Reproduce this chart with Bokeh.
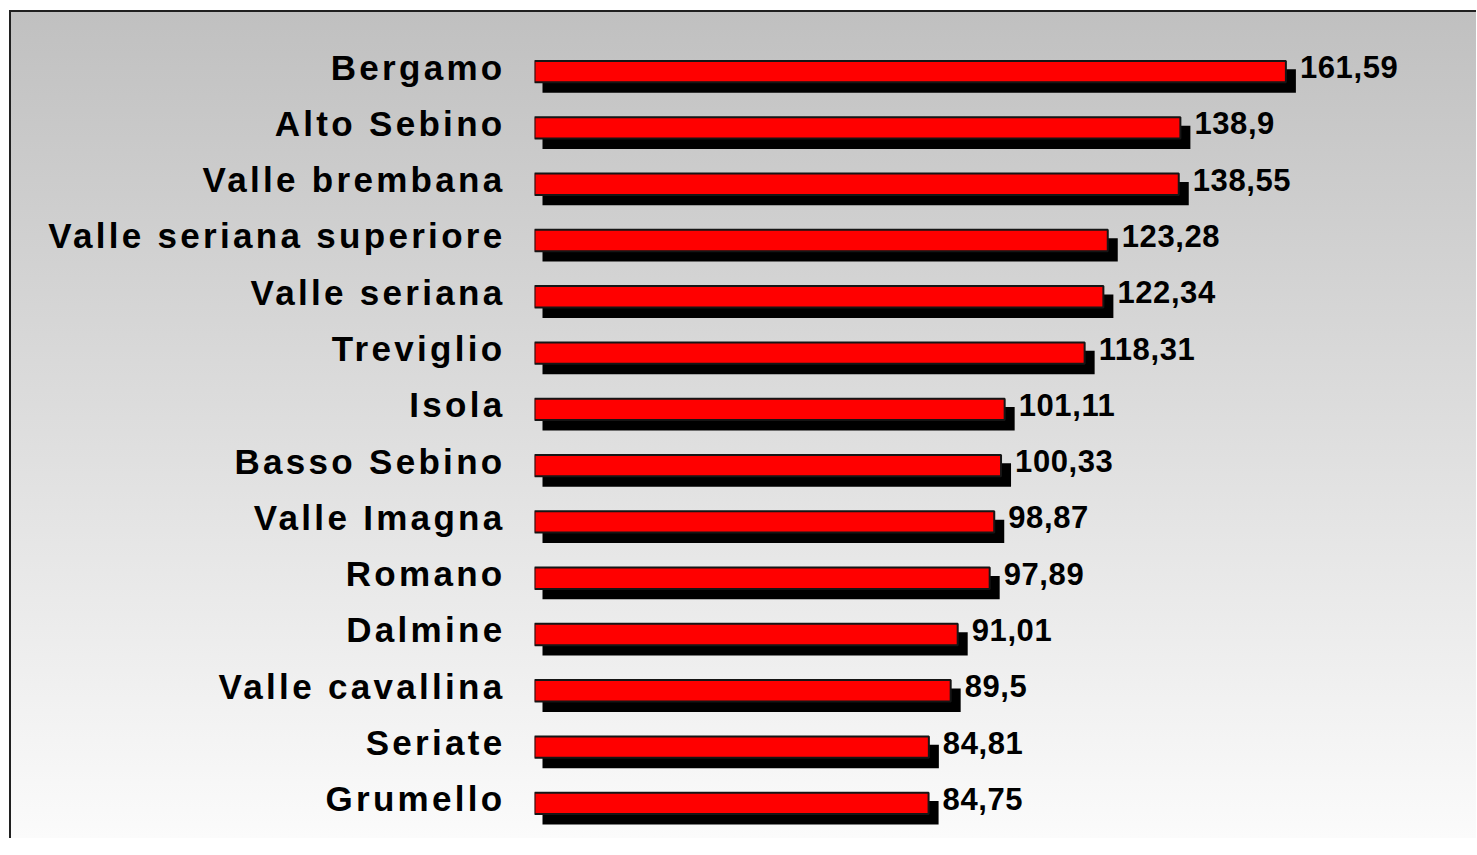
from bokeh.plotting import figure
from bokeh.layouts import row
from bokeh.models import FactorRange, Range1d, ColumnDataSource
from bokeh.transform import dodge
from bokeh.core.properties import value
from bokeh.embed import file_html
from bokeh.resources import INLINE

categories = ["Bergamo", "Alto Sebino", "Valle brembana", "Valle seriana superiore",
              "Valle seriana", "Treviglio", "Isola", "Basso Sebino", "Valle Imagna",
              "Romano", "Dalmine", "Valle cavallina", "Seriate", "Grumello"]
values = [161.59, 138.9, 138.55, 123.28, 122.34, 118.31, 101.11, 100.33, 98.87,
          97.89, 91.01, 89.5, 84.81, 84.75]
value_labels = [f"{v:g}".replace(".", ",") for v in values]

H = 826
LW, RW = 523, 942
TOP, BOTTOM = 31, 7
PX_PER_UNIT = 4.65
XMAX = RW / PX_PER_UNIT
ROW_PX = (H - TOP - BOTTOM) / len(categories)
BAR_H = 0.38
SHADOW_H = BAR_H + 2 / ROW_PX
SHADOW_DX = 9 / PX_PER_UNIT
SHADOW_DY = 9.4 / ROW_PX
PAD = 1 / PX_PER_UNIT
CAT_SPACING = 3.3

# letter-spacing is not part of the measured text width, so shift each
# right-aligned label back by the extra spacing it receives
cat_offsets = [-32.3 - (len(c) - 1) * CAT_SPACING for c in categories]

src = ColumnDataSource(dict(cat=categories, val=values, lab=value_labels,
                            xoff=cat_offsets))
y_range = FactorRange(factors=categories[::-1], range_padding=0)


def bare(fig):
    fig.background_fill_color = None
    fig.border_fill_color = None
    fig.outline_line_color = None
    fig.xgrid.visible = False
    fig.ygrid.visible = False
    for ax in fig.axis:
        ax.visible = False


# left: category labels
pl = figure(width=LW, height=H, output_backend="svg", toolbar_location=None,
            y_range=y_range, x_range=Range1d(0, 1),
            min_border_left=0, min_border_right=0, min_border_top=TOP,
            min_border_bottom=BOTTOM)
bare(pl)
pl.styles = {"letter-spacing": f"{CAT_SPACING}px"}
pl.text(x=1, y="cat", text="cat", source=src, x_offset="xoff", y_offset=-4.6,
        text_font=value("Liberation Sans"), text_font_style="bold",
        text_font_size="35px", text_color="black",
        text_align="right", text_baseline="alphabetic")

# right: bars
p = figure(width=RW, height=H, output_backend="svg", toolbar_location=None,
           y_range=y_range, x_range=Range1d(0, XMAX),
           min_border_left=0, min_border_right=0, min_border_top=TOP,
           min_border_bottom=BOTTOM)
bare(p)
p.styles = {"letter-spacing": "0.6px", "overflow": "hidden"}

# shadows
p.hbar(y=dodge("cat", -SHADOW_DY, range=y_range), left=SHADOW_DX - PAD,
       right=dodge("val", SHADOW_DX + PAD), height=SHADOW_H, source=src,
       fill_color="black", line_color=None)
# bars
p.hbar(y="cat", left=0, right="val", height=BAR_H, source=src,
       fill_color="#ff0000", line_color="#151515", line_width=2)
# value labels
p.text(x="val", y="cat", text="lab", source=src, x_offset=14, y_offset=-4.5,
       text_font=value("Liberation Sans"), text_font_style="bold",
       text_font_size="31px", text_color="black",
       text_align="left", text_baseline="alphabetic")

layout = row(pl, p, spacing=0)
layout.styles = {
    "background": "linear-gradient(to bottom, #c0c0c0 0%, #fbfbfb 100%)",
    "border-top": "2px solid #202020",
    "border-left": "2px solid #202020",
    "margin-left": "9px",
    "margin-top": "10px",
    "overflow": "hidden",
}

open("out.html", "w").write(file_html(layout, INLINE))
